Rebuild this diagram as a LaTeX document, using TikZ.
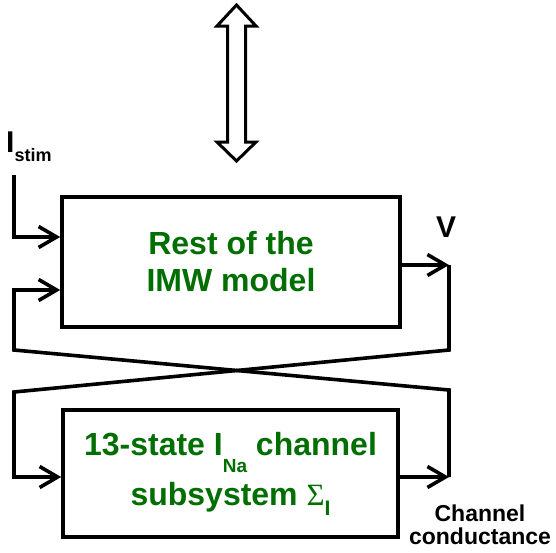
\documentclass[tikz,border=0pt]{standalone}
\usepackage{fontspec}
\setmainfont{Liberation Sans}
\newfontfamily\greekserif{Liberation Serif}
\usetikzlibrary{arrows.meta, positioning}
\definecolor{blockgreen}{RGB}{0,110,0}

\tikzset{
  block/.style={draw, line width=3.6pt, inner sep=0pt, align=center,
    text=blockgreen, font=\bfseries\fontsize{32}{37}\selectfont},
  wire/.style={line width=3.6pt},
  sig/.style={wire, -{Straight Barb[length=18pt, width=21pt, line width=3.6pt]}},
  sidelabel/.style={inner sep=0pt, font=\bfseries\fontsize{30}{30}\selectfont}
}

\begin{document}
\begin{tikzpicture}[x=1pt, y=-1pt]
  \useasboundingbox (0,0) rectangle (556,552);

  % the two blocks
  \node[block, minimum width=338pt, minimum height=130pt] (imw) at (231,262)
    {Rest of the\\IMW model};
  \node[block, minimum width=335pt, minimum height=127pt,
    font=\bfseries\fontsize{32}{50}\selectfont] (ina) at (230.5,473.5)
    {13-state I\raisebox{-17pt}{\fontsize{19}{19}\selectfont Na} channel\\
     subsystem {\greekserif\mdseries\fontsize{31}{31}\selectfont Σ}\raisebox{-10pt}{\fontsize{21}{21}\selectfont I}};

  % double arrow on top
  \draw[line width=3pt, fill=white]
    (236.5,5) -- (256,26) -- (245.5,26) -- (245.5,142) -- (256,142)
    -- (236.5,161) -- (217,142) -- (227.5,142) -- (227.5,26) -- (217,26) -- cycle;

  % corners of the loop
  \coordinate (stimtop) at (14,175);
  \coordinate (vout) at (449,265);
  \coordinate (gout) at (449,477);
  \coordinate (xr1) at (449,350);
  \coordinate (xl1) at (14,350);
  \coordinate (xr2) at (449,390);
  \coordinate (xl2) at (14,392);

  % labels
  \node[sidelabel, anchor=base west] (istim) at (6,152)
    {I\raisebox{-9pt}{\fontsize{18}{18}\selectfont stim}};
  \node[sidelabel, above=27pt of vout, xshift=-3pt] (vlabel) {V};
  \node[inner sep=0pt, align=center, below=28pt of gout, xshift=31pt,
    font=\bfseries\fontsize{23}{23}\selectfont] (glabel) {Channel\\conductance};

  % connectors
  \draw[sig] (stimtop) |- ([yshift=25pt]imw.west);
  \draw[sig] ([yshift=-3pt]imw.east) -- (vout);
  \draw[sig] ([yshift=-3.5pt]ina.east) -- (gout);
  \draw[sig] (vout) -- (xr1) -- (xl2) |- ([yshift=-3.5pt]ina.west);
  \draw[sig] (gout) -- (xr2) -- (xl1) |- ([yshift=-28pt]imw.west);
\end{tikzpicture}
\end{document}
